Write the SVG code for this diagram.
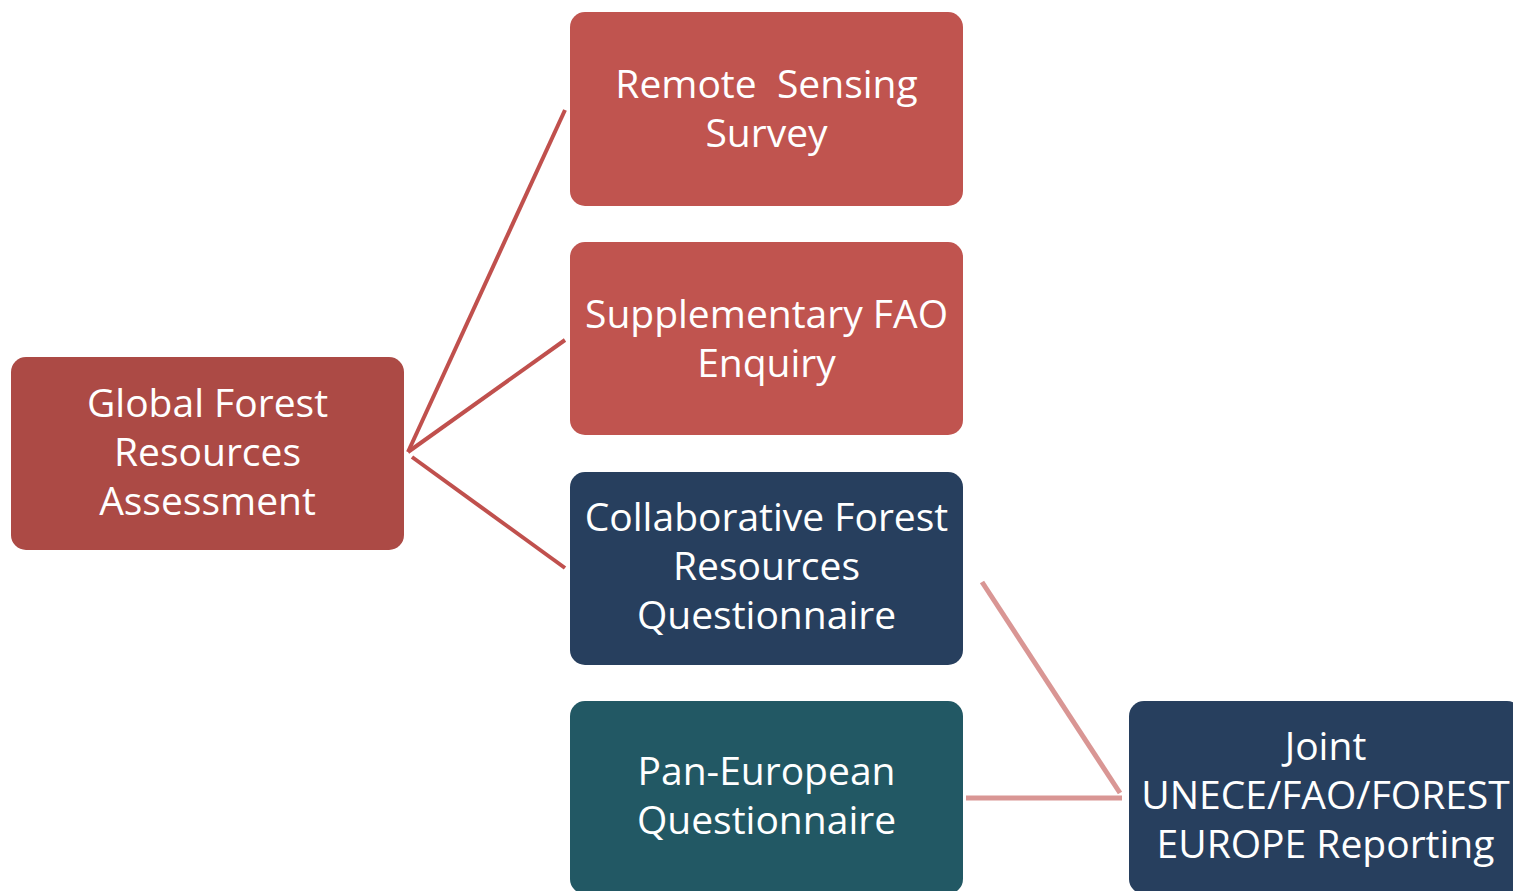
<svg xmlns="http://www.w3.org/2000/svg" width="1513" height="891" viewBox="0 0 1513 891">
<style>
.t{font-family:"Open Sans","Noto Sans","Liberation Sans",sans-serif;font-size:39px;fill:#fff;text-anchor:middle}
.red{fill:#c0544f}
.dred{fill:#ac4a45}
.navy{fill:#273f5e}
.teal{fill:#225864}
.c1{stroke:#c0504d;stroke-width:4;fill:none}
.c2{stroke:#d99694;stroke-width:5;fill:none}
</style>
<rect width="1513" height="891" fill="#fff"/>
<g id="connectors">
<line class="c1" x1="408" y1="452" x2="565" y2="110"/>
<line class="c1" x1="408" y1="452" x2="565" y2="340"/>
<line class="c1" x1="412" y1="457" x2="565" y2="568"/>
<line class="c2" x1="982" y1="582" x2="1120" y2="793"/>
<line class="c2" x1="966" y1="798" x2="1122" y2="798"/>
</g>
<g id="gfra">
<rect class="dred" x="11" y="357" width="393" height="193" rx="15"/>
<text class="t" x="207.5" y="417">Global Forest</text>
<text class="t" x="207.5" y="466">Resources</text>
<text class="t" x="207.5" y="515">Assessment</text>
</g>
<g id="remote">
<rect class="red" x="570" y="12" width="393" height="194" rx="15"/>
<text class="t" x="766.5" y="98" xml:space="preserve">Remote  Sensing</text>
<text class="t" x="766.5" y="147">Survey</text>
</g>
<g id="supp">
<rect class="red" x="570" y="242" width="393" height="193" rx="15"/>
<text class="t" x="766.5" y="328">Supplementary FAO</text>
<text class="t" x="766.5" y="377">Enquiry</text>
</g>
<g id="collab">
<rect class="navy" x="570" y="472" width="393" height="193" rx="15"/>
<text class="t" x="766.5" y="531">Collaborative Forest</text>
<text class="t" x="766.5" y="580">Resources</text>
<text class="t" x="766.5" y="629">Questionnaire</text>
</g>
<g id="paneu">
<rect class="teal" x="570" y="701" width="393" height="193" rx="15"/>
<text class="t" x="766.5" y="785">Pan-European</text>
<text class="t" x="766.5" y="834">Questionnaire</text>
</g>
<g id="joint">
<rect class="navy" x="1129" y="701" width="393" height="193" rx="15"/>
<text class="t" x="1325.5" y="760">Joint</text>
<text class="t" x="1325.5" y="809">UNECE/FAO/FOREST</text>
<text class="t" x="1325.5" y="858">EUROPE Reporting</text>
</g>
</svg>
